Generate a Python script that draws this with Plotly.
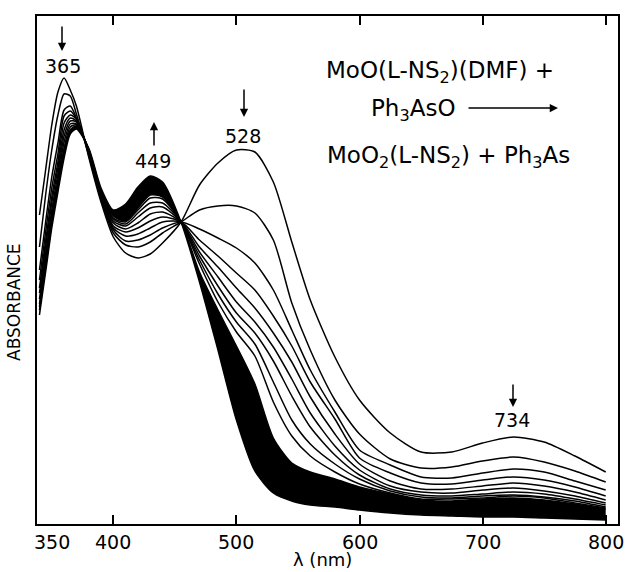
import plotly.graph_objects as go

# Wavelength grid (nm)
wavelength_nm = [340, 345, 350, 355, 360, 365, 370, 380, 390, 400, 410, 420, 430, 440, 455,
                 470, 485, 500, 515, 530, 545, 560, 580, 600, 625, 650, 675, 700, 725, 750, 775, 800]

# Relative absorbance (arbitrary units, baseline = 0)
c1 = [309, 354, 399, 432, 446, 434, 418, 367, 322, 287, 271, 266, 270, 281, 302,
      339, 361, 374, 372, 342, 282, 224, 167, 124, 91, 72, 72, 81, 87, 82, 68, 52]
c2 = [277, 329, 374, 409, 430, 428, 410, 369, 325, 291, 279, 277, 282, 291, 302,
      314, 318, 318, 311, 284, 221, 174, 124, 90, 65, 56, 57, 63, 67, 62, 53, 42]
c3 = [254, 302, 347, 381, 414, 418, 406, 371, 326, 294, 283, 284, 289, 296, 302,
      295, 286, 276, 261, 234, 194, 154, 112, 74, 59, 47, 46, 51, 55, 52, 43, 34]
c4 = [244, 292, 336, 370, 408, 413, 405, 372, 328, 296, 288, 290, 296, 302, 302,
      284, 268, 251, 234, 208, 178, 142, 105, 66, 51, 41, 40, 44, 47, 44, 37, 28]
c5 = [236, 283, 327, 362, 401, 409, 405, 372, 329, 298, 292, 296, 303, 307, 302,
      277, 257, 236, 216, 191, 162, 127, 90, 60, 43, 35, 35, 38, 41, 38, 32, 24]
c6 = [231, 277, 321, 356, 394, 406, 403, 373, 330, 301, 295, 301, 310, 312, 302,
      272, 247, 222, 202, 177, 145, 111, 78, 54, 38, 32, 31, 34, 36, 33, 28, 21]
c7 = [225, 270, 314, 350, 388, 403, 402, 374, 331, 303, 298, 307, 316, 317, 302,
      268, 238, 211, 191, 163, 128, 97, 69, 49, 35, 29, 28, 30, 32, 30, 25, 19]
c8 = [220, 265, 309, 344, 382, 400, 400, 374, 332, 305, 300, 311, 321, 321, 302,
      264, 230, 202, 180, 142, 104, 80, 60, 45, 33, 27, 26, 28, 29, 27, 23, 17]
c9 = [217, 261, 305, 340, 376, 397, 399, 374, 333, 306, 302, 314, 326, 325, 302,
      260, 222, 192, 168, 122, 88, 68, 52, 40, 31, 25, 25, 26, 28, 26, 21, 16]
band_first = [214, 257, 301, 337, 372, 394, 398, 375, 333, 308, 303, 316, 329, 327, 302,
              252, 214, 178, 140, 86, 61, 52, 45, 37, 30, 24, 23, 25, 26, 24, 20, 15]
band_last = [209, 252, 296, 332, 366, 390, 395, 376, 336, 314, 320, 337, 348, 342, 302,
             242, 174, 104, 53, 31, 23, 19, 17, 14, 11, 9, 8, 7, 7, 6, 5, 4]

distinct_spectra = [c1, c2, c3, c4, c5, c6, c7, c8, c9]

x_tick_vals = [350, 400, 500, 600, 700, 800]
x_tick_text = ["350", "400", "500", "600", "700", "800"]
x_mark_vals = [400, 500, 600, 700, 800]

FONT = "DejaVu Sans"
line_style = dict(color="black", width=1.5, shape="spline", smoothing=0.7)

fig = go.Figure()
fig.add_trace(go.Scatter(x=wavelength_nm, y=band_first, mode="lines", line=line_style,
                         hoverinfo="skip"))
fig.add_trace(go.Scatter(x=wavelength_nm, y=band_last, mode="lines", line=line_style,
                         fill="tonexty", fillcolor="black", hoverinfo="skip"))
for s in distinct_spectra:
    fig.add_trace(go.Scatter(x=wavelength_nm, y=s, mode="lines", line=line_style,
                             hoverinfo="skip"))

L, R, T, B = 37, 11, 16, 48
W, H = 629, 572
pw, ph = W - L - R, H - T - B


def px(x):
    return (x - L) / pw


def py(y):
    return (H - B - y) / ph


annotations = []
# tick labels
for v, t in zip(x_tick_vals, x_tick_text):
    annotations.append(dict(x=v, y=py(529), xref="x", yref="paper", text=t,
                            showarrow=False, xanchor="center", yanchor="top",
                            font=dict(family=FONT, size=19, color="black")))

# peak labels with arrows
peak_labels = [("365", 63, 66, 62, 51, -26), ("449", 153, 161, 154, 122, 25),
               ("528", 243, 136, 244, 117, -29), ("734", 512, 420, 513, 407, -24)]
for txt, lx, ly, ax_, hy, dy in peak_labels:
    annotations.append(dict(x=px(lx), y=py(ly), xref="paper", yref="paper", text=txt,
                            showarrow=False, font=dict(family=FONT, size=19, color="black"),
                            xanchor="center", yanchor="middle"))
    annotations.append(dict(x=px(ax_), y=py(hy), xref="paper", yref="paper", text="",
                            showarrow=True, ax=0, ay=dy, arrowhead=2, arrowsize=1.1,
                            arrowwidth=1.5, arrowcolor="black"))

rfont = dict(family=FONT, size=23, color="black")
annotations += [
    dict(x=px(440), y=py(72), xref="paper", yref="paper",
         text="MoO(L-NS<sub>2</sub>)(DMF) +", showarrow=False, font=rfont,
         xanchor="center", yanchor="middle"),
    dict(x=px(413), y=py(110), xref="paper", yref="paper",
         text="Ph<sub>3</sub>AsO", showarrow=False, font=rfont,
         xanchor="center", yanchor="middle"),
    dict(x=px(558), y=py(108), xref="paper", yref="paper", text="",
         showarrow=True, ax=-91, ay=0, arrowhead=2, arrowsize=1.1, arrowwidth=1.5,
         arrowcolor="black"),
    dict(x=px(448), y=py(157), xref="paper", yref="paper",
         text="MoO<sub>2</sub>(L-NS<sub>2</sub>) + Ph<sub>3</sub>As", showarrow=False,
         font=rfont, xanchor="center", yanchor="middle"),
    dict(x=px(14), y=py(302), xref="paper", yref="paper", text="ABSORBANCE",
         textangle=-90, showarrow=False, font=dict(family=FONT, size=17, color="black"),
         xanchor="center", yanchor="middle"),
    dict(x=px(322), y=py(559), xref="paper", yref="paper", text="λ (nm)",
         showarrow=False, font=dict(family=FONT, size=18, color="black"),
         xanchor="center", yanchor="middle"),
]

fig.update_layout(
    width=W, height=H,
    margin=dict(l=L, r=R, t=T, b=B, pad=0, autoexpand=False),
    paper_bgcolor="white", plot_bgcolor="white",
    showlegend=False,
    annotations=annotations,
    xaxis=dict(range=[338, 810], tickvals=x_mark_vals, showticklabels=False,
               ticks="inside", ticklen=9, tickwidth=1.5, tickcolor="black",
               showline=True, linecolor="black", linewidth=2, mirror="ticks",
               showgrid=False, zeroline=False, automargin=False),
    yaxis=dict(range=[0, 508], showticklabels=False, ticks="", showline=True,
               linecolor="black", linewidth=2, mirror=True, showgrid=False,
               zeroline=False, automargin=False),
)

fig.write_html("out.html", config={"displayModeBar": False},
               post_script="document.body.style.margin='0';document.body.style.padding='0';")
